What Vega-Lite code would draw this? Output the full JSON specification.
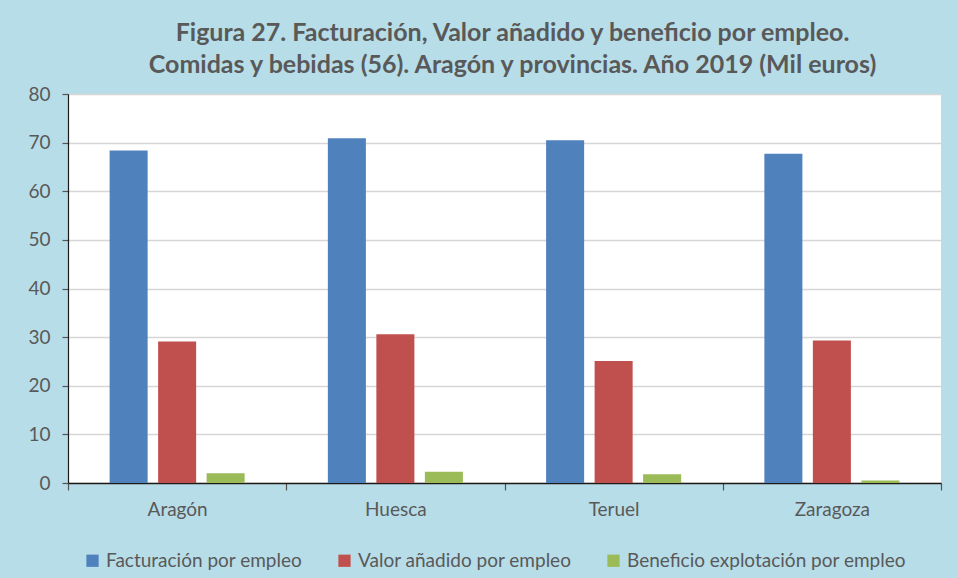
{
  "$schema": "https://vega.github.io/schema/vega-lite/v6.json",
  "autosize": {"type": "none"},
  "width": 873,
  "height": 389,
  "padding": {"left": 68, "top": 94, "right": 17, "bottom": 95},
  "background": "#b7dde8",
  "config": {
    "font": "Lato",
    "view": {"fill": "white", "stroke": null},
    "axis": {"labelColor": "#595959", "labelFontSize": 19, "labelFont": "Lato", "domainColor": "#1a1a1a", "tickColor": "#555555"},
    "legend": {"labelColor": "#595959", "labelFontSize": 19, "labelFont": "Lato", "labelLimit": 0}
  },
  "title": {
    "text": ["Figura 27. Facturación, Valor añadido y beneficio por empleo.", "Comidas y bebidas (56). Aragón y provincias. Año 2019 (Mil euros)"],
    "anchor": "middle",
    "dx": 8,
    "fontSize": 25,
    "fontWeight": "bold",
    "font": "Lato",
    "color": "#595959",
    "lineHeight": 32,
    "offset": 7
  },
  "data": {
    "values": [
      {"provincia": "Aragón", "serie": "Facturación por empleo", "valor": 68.4},
      {"provincia": "Aragón", "serie": "Valor añadido por empleo", "valor": 29.1},
      {"provincia": "Aragón", "serie": "Beneficio explotación por empleo", "valor": 2.0},
      {"provincia": "Huesca", "serie": "Facturación por empleo", "valor": 70.9},
      {"provincia": "Huesca", "serie": "Valor añadido por empleo", "valor": 30.6},
      {"provincia": "Huesca", "serie": "Beneficio explotación por empleo", "valor": 2.3},
      {"provincia": "Teruel", "serie": "Facturación por empleo", "valor": 70.5},
      {"provincia": "Teruel", "serie": "Valor añadido por empleo", "valor": 25.1},
      {"provincia": "Teruel", "serie": "Beneficio explotación por empleo", "valor": 1.8},
      {"provincia": "Zaragoza", "serie": "Facturación por empleo", "valor": 67.7},
      {"provincia": "Zaragoza", "serie": "Valor añadido por empleo", "valor": 29.3},
      {"provincia": "Zaragoza", "serie": "Beneficio explotación por empleo", "valor": 0.5}
    ]
  },
  "mark": {"type": "bar"},
  "encoding": {
    "x": {
      "field": "provincia",
      "type": "nominal",
      "sort": ["Aragón", "Huesca", "Teruel", "Zaragoza"],
      "scale": {"paddingInner": 0, "paddingOuter": 0},
      "axis": {"title": null, "labelAngle": 0, "tickBand": "extent", "tickSize": 7, "labelPadding": 10, "domainWidth": 1.5, "tickWidth": 1.2, "grid": false}
    },
    "xOffset": {
      "field": "serie",
      "type": "nominal",
      "sort": ["Facturación por empleo", "Valor añadido por empleo", "Beneficio explotación por empleo"],
      "scale": {"paddingInner": 0.216, "paddingOuter": 0.858}
    },
    "y": {
      "field": "valor",
      "type": "quantitative",
      "scale": {"domain": [0, 80], "nice": false},
      "axis": {"title": null, "values": [0, 10, 20, 30, 40, 50, 60, 70, 80], "tickSize": 6, "labelPadding": 12, "gridColor": "#d6d6d6", "gridWidth": 1.3, "domainWidth": 1.2, "tickWidth": 1.2}
    },
    "color": {
      "field": "serie",
      "type": "nominal",
      "sort": ["Facturación por empleo", "Valor añadido por empleo", "Beneficio explotación por empleo"],
      "scale": {"range": ["#4f81bd", "#c0504d", "#9bbb59"]},
      "legend": {"title": null, "orient": "none", "direction": "horizontal", "legendX": 15, "legendY": 457, "symbolType": "square", "symbolSize": 150, "symbolStrokeWidth": 0, "labelOffset": 4, "columnPadding": 32}
    }
  }
}
